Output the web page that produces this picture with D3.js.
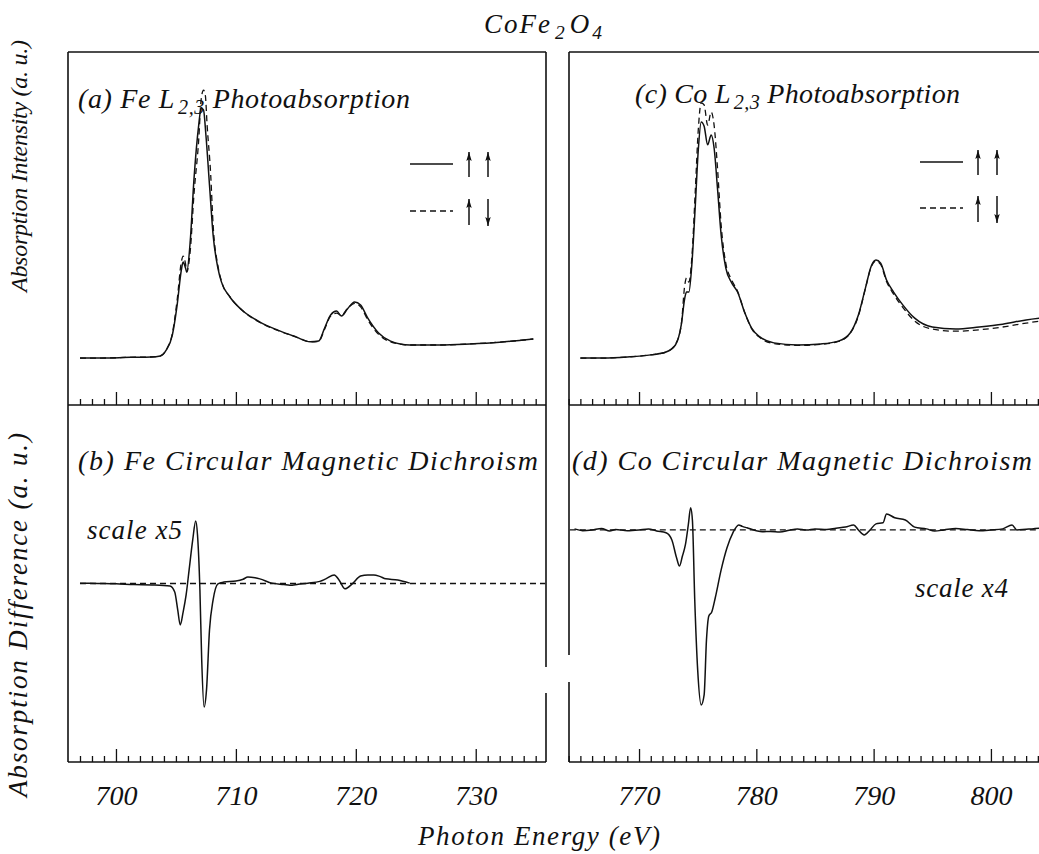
<!DOCTYPE html>
<html>
<head>
<meta charset="utf-8">
<script src="https://cdn.jsdelivr.net/npm/d3@7"></script>
<style>
  html, body { margin: 0; padding: 0; background: #fff; }
  svg { display: block; }
  text { font-family: "Liberation Serif", "DejaVu Serif", serif; font-style: italic; fill: #111; }
</style>
</head>
<body>
<svg id="chart" width="1039" height="854"></svg>
<script>
// ---------------- DATA ----------------
// Energies in eV, intensities in arbitrary units
const feMajorTicks = [700, 710, 720, 730];
const coMajorTicks = [770, 780, 790, 800];

// (a) Fe L2,3 photoabsorption, parallel (solid)
const feAbsParallel = [
  [697.0,1.33],[698.7,1.33],[701.2,1.35],[702.9,1.36],[703.7,1.39],[704.2,1.56],[704.7,1.98],
  [705.1,2.83],[705.45,3.82],[705.6,4.05],[705.8,3.88],[705.9,3.77],[706.2,4.67],[706.5,6.37],
  [706.9,7.93],[707.1,8.41],[707.3,8.36],[707.5,7.65],[707.8,6.23],[708.1,4.82],[708.5,3.88],
  [708.8,3.48],[709.5,3.06],[710.5,2.69],[712.0,2.35],[713.5,2.12],[715.0,1.93],[716.2,1.79],[716.9,1.81],
  [717.4,2.18],[717.9,2.55],[718.4,2.66],[718.8,2.52],[719.3,2.72],[719.9,2.92],[720.4,2.83],
  [721.0,2.46],[721.9,2.04],[722.9,1.81],[724.5,1.70],[727.0,1.70],[729.5,1.73],[732.0,1.78],[734.8,1.87]
];
// (a) Fe L2,3 photoabsorption, antiparallel (dashed)
const feAbsAntiparallel = [
  [697.0,1.33],[698.7,1.33],[701.2,1.35],[702.9,1.36],[703.7,1.39],[704.2,1.57],[704.7,2.02],
  [705.1,2.97],[705.45,4.05],[705.6,4.22],[705.8,4.00],[705.9,3.77],[706.2,4.39],[706.5,5.95],
  [706.9,7.51],[707.1,8.64],[707.3,8.92],[707.45,8.78],[707.6,7.93],[707.9,6.52],[708.1,5.10],[708.5,3.95],
  [708.8,3.50],[709.5,3.07],[710.5,2.69],[712.0,2.34],[713.5,2.11],[715.0,1.93],[716.2,1.79],[716.9,1.80],
  [717.4,2.15],[717.9,2.52],[718.4,2.60],[718.8,2.54],[719.3,2.73],[719.9,2.88],[720.4,2.78],
  [721.0,2.41],[721.9,2.00],[722.9,1.79],[724.5,1.70],[727.0,1.70],[729.5,1.73],[732.0,1.78],[734.8,1.87]
];
// (b) Fe circular magnetic dichroism (x5)
const feDichroism = [
  [697.0,0.01],[698.5,0.00],[700,-0.01],[701.5,-0.03],[703,-0.04],[704.5,-0.07],[704.9,-0.24],[705.15,-0.74],
  [705.36,-1.16],[705.6,-0.80],[705.85,-0.32],[706.1,0.38],[706.4,1.22],[706.65,1.75],[706.8,1.36],
  [707.0,-0.18],[707.15,-2.14],[707.35,-3.46],[707.55,-2.98],[707.8,-1.30],[708.1,-0.46],[708.5,-0.01],
  [709,0.04],[710,0.07],[710.6,0.12],[711,0.18],[711.6,0.16],[712,0.13],[713,0.01],[714,-0.03],[714.5,-0.05],
  [715.2,-0.02],[716,0.01],[717,0.06],[717.5,0.13],[718.2,0.24],[718.6,0.10],[719.1,-0.15],[719.7,-0.01],
  [720.4,0.21],[721.0,0.24],[721.5,0.24],[722.0,0.20],[722.5,0.13],[723.5,0.10],[724.5,0.01]
];
const feZero = [[697.0,0],[735.8,0]];

// (c) Co L2,3 photoabsorption, parallel (solid)
const coAbsParallel = [
  [765.0,1.33],[767.0,1.33],[769.0,1.36],[771.0,1.42],[772.3,1.50],[773.1,1.70],[773.6,2.27],
  [773.9,3.03],[774.05,3.20],[774.25,3.20],[774.5,3.97],[774.8,5.67],[775.05,7.22],[775.3,8.02],
  [775.55,7.90],[775.85,7.37],[776.15,7.65],[776.4,7.28],[776.7,6.09],[777.0,4.82],[777.4,3.88],
  [777.9,3.46],[778.4,3.20],[779.0,2.63],[779.6,2.18],[780.3,1.93],[781.5,1.76],[783.5,1.70],
  [785.5,1.73],[787.0,1.81],[788.0,2.04],[788.7,2.55],[789.3,3.31],[789.8,3.94],[790.2,4.11],
  [790.6,4.02],[791.1,3.54],[791.7,3.20],[792.5,2.83],[793.5,2.46],[795.0,2.21],[797.0,2.15],
  [799.0,2.21],[801.0,2.29],[803.0,2.41],[805.0,2.49]
];
// (c) Co L2,3 photoabsorption, antiparallel (dashed)
const coAbsAntiparallel = [
  [765.0,1.33],[767.0,1.33],[769.0,1.36],[771.0,1.42],[772.3,1.50],[773.1,1.72],[773.6,2.27],
  [773.9,3.40],[774.05,3.60],[774.25,3.48],[774.5,4.16],[774.8,6.09],[775.05,7.79],[775.3,8.56],
  [775.55,8.50],[775.85,7.93],[776.15,8.30],[776.4,7.93],[776.7,6.66],[777.0,5.10],[777.4,4.01],
  [777.9,3.54],[778.4,3.22],[779.0,2.63],[779.6,2.16],[780.3,1.91],[781.5,1.74],[783.5,1.69],
  [785.5,1.72],[787.0,1.80],[788.0,2.03],[788.7,2.52],[789.3,3.30],[789.8,3.92],[790.2,4.08],
  [790.6,3.98],[791.1,3.50],[791.7,3.14],[792.5,2.76],[793.5,2.38],[795.0,2.15],[797.0,2.09],
  [799.0,2.13],[801.0,2.21],[803.0,2.32],[805.0,2.41]
];
// (d) Co circular magnetic dichroism (x4)
const coDichroism = [
  [764.5,0.03],[765.2,-0.02],[766,0.00],[766.8,0.04],[767.5,-0.03],[768,0.01],[769,-0.02],[770,0.00],
  [770.8,0.03],[771.5,-0.03],[772.3,-0.08],[772.8,-0.28],[773.2,-0.78],[773.45,-1.01],[773.7,-0.73],
  [773.95,-0.42],[774.2,0.14],[774.4,0.62],[774.55,0.28],[774.75,-1.96],[775.0,-3.92],[775.3,-4.90],
  [775.55,-4.62],[775.75,-3.08],[775.95,-2.41],[776.2,-2.30],[776.5,-1.90],[777.0,-1.12],[777.5,-0.50],
  [778.0,-0.08],[778.5,0.14],[778.8,0.10],[779.2,0.06],[780.0,-0.02],[780.5,-0.05],[781.2,-0.04],
  [782,-0.06],[782.8,-0.01],[783.5,0.03],[784.3,0.00],[785.0,0.03],[786,0.01],[786.8,0.05],[787.6,0.08],
  [788.3,0.14],[788.7,0.00],[789.2,-0.14],[789.7,0.00],[790.2,0.17],[790.8,0.20],[791.1,0.45],
  [791.8,0.34],[792.7,0.28],[793.5,0.08],[794.5,0.03],[795.2,-0.03],[796,0.00],[797,0.04],[798,0.01],
  [799,-0.02],[800,0.00],[801,0.03],[801.8,0.14],[802.2,0.00],[803,0.02],[803.5,0.03],[804.5,0.06]
];
const coZero = [[764.1,0],[805,0]];

// ---------------- LAYOUT ----------------
const svg = d3.select("#chart");
const yT = 52, yM = 405, yB = 762;
const feL = 68, feR = 546, coL = 569, coR = 1047;

const xFe = d3.scaleLinear().domain([696.0, 735.86]).range([feL, feR]);
const xCo = d3.scaleLinear().domain([764.03, 804.78]).range([coL, coR]);
const yAbs = d3.scaleLinear().domain([0, 10]).range([yM, yT]);
const yFeD = d3.scaleLinear().domain([-5, 5]).range([yB, yM]);
const yCoD = d3.scaleLinear().domain([-6.5, 3.5]).range([yB, yM]);

const defs = svg.append("defs");
defs.append("clipPath").attr("id", "clipFe").append("rect")
  .attr("x", feL).attr("y", yT).attr("width", feR - feL).attr("height", yB - yT);
defs.append("clipPath").attr("id", "clipCo").append("rect")
  .attr("x", coL).attr("y", yT).attr("width", coR - coL).attr("height", yB - yT);
defs.append("marker").attr("id", "arrow").attr("viewBox", "0 0 10 6")
  .attr("refX", 10).attr("refY", 3).attr("markerWidth", 6).attr("markerHeight", 3.6)
  .attr("markerUnits", "strokeWidth").attr("orient", "auto")
  .append("path").attr("d", "M0,0 L10,3 L0,6 L2,3 Z").attr("fill", "#111");

function drawLine(data, x, y, dashed, clip, smooth) {
  const line = d3.line().x(d => x(d[0])).y(d => y(d[1]));
  if (smooth) line.curve(d3.curveMonotoneX);
  svg.append("path")
    .datum(data)
    .attr("clip-path", `url(#${clip})`)
    .attr("fill", "none")
    .attr("stroke", "#111")
    .attr("stroke-width", dashed ? 1.3 : 1.5)
    .attr("stroke-dasharray", dashed ? "6,4" : null)
    .attr("stroke-linejoin", "round")
    .attr("d", line);
}

drawLine(feAbsAntiparallel, xFe, yAbs, true, "clipFe", true);
drawLine(feAbsParallel, xFe, yAbs, false, "clipFe", true);
drawLine(feZero, xFe, yFeD, true, "clipFe", false);
drawLine(feDichroism, xFe, yFeD, false, "clipFe", true);

drawLine(coAbsAntiparallel, xCo, yAbs, true, "clipCo", true);
drawLine(coAbsParallel, xCo, yAbs, false, "clipCo", true);
drawLine(coZero, xCo, yCoD, true, "clipCo", false);
drawLine(coDichroism, xCo, yCoD, false, "clipCo", true);

// ---------------- AXES (ticks pointing inward) ----------------
function ticks(x, y0, lo, hi, majors, labels) {
  const minors = d3.range(lo, hi + 1).filter(v => majors.indexOf(v) < 0);
  const gMin = svg.append("g").attr("transform", `translate(0,${y0})`)
    .call(d3.axisBottom(x).tickValues(minors).tickSize(-6).tickFormat(""));
  gMin.select(".domain").remove();
  const gMaj = svg.append("g").attr("transform", `translate(0,${y0})`)
    .call(d3.axisBottom(x).tickValues(majors).tickSize(-13).tickFormat(labels ? d3.format("d") : ""));
  gMaj.select(".domain").remove();
  svg.selectAll("g.tick line").attr("stroke", "#111").attr("stroke-width", 1.3);
  if (labels) {
    gMaj.selectAll("text")
      .attr("y", 0).attr("dy", 0)
      .attr("transform", "translate(0,43)")
      .style("font-family", '"Liberation Serif", serif')
      .style("font-style", "italic")
      .style("font-size", "28px")
      .attr("fill", "#111");
  }
}
ticks(xFe, yM, 697, 735, feMajorTicks, false);
ticks(xFe, yB, 697, 735, feMajorTicks, true);
ticks(xCo, yM, 764, 804, coMajorTicks, false);
ticks(xCo, yB, 764, 804, coMajorTicks, true);

// ---------------- FRAMES ----------------
const frame = svg.append("g").attr("stroke", "#111").attr("stroke-width", 1.6).attr("fill", "none");
function seg(x1, y1, x2, y2) { frame.append("line").attr("x1", x1).attr("y1", y1).attr("x2", x2).attr("y2", y2); }
seg(feL, yT, feR, yT); seg(feL, yM, feR, yM); seg(feL, yB, feR, yB);
seg(feL, yT, feL, yB);
seg(feR, yT, feR, 667); seg(feR, 693, feR, yB);
seg(coL, yT, coR, yT); seg(coL, yM, coR, yM); seg(coL, yB, coR, yB);
seg(coL, yT, coL, 655); seg(coL, 682, coL, yB);

// ---------------- LEGENDS ----------------
function legend(x0, ySolid, yDash, ax1, ax2) {
  const g = svg.append("g").attr("stroke", "#111").attr("stroke-width", 1.5);
  g.append("line").attr("x1", x0).attr("x2", x0 + 43).attr("y1", ySolid).attr("y2", ySolid);
  g.append("line").attr("x1", x0).attr("x2", x0 + 43).attr("y1", yDash).attr("y2", yDash)
    .attr("stroke-dasharray", "6,4").attr("stroke-width", 1.3);
  const arrow = (x, y1, y2) => g.append("line").attr("x1", x).attr("x2", x).attr("y1", y1).attr("y2", y2)
    .attr("marker-end", "url(#arrow)");
  arrow(ax1, ySolid + 13, ySolid - 12);
  arrow(ax2, ySolid + 13, ySolid - 12);
  arrow(ax1, yDash + 14, yDash - 12);
  arrow(ax2, yDash - 12, yDash + 15);
}
legend(410, 164, 211, 469, 488);
legend(920, 162, 208, 978, 997);

// ---------------- TEXT ----------------
function label(x, y, parts, size, width, spacing) {
  const t = svg.append("text").attr("x", x).attr("y", y).style("font-size", size + "px");
  if (spacing) t.style("letter-spacing", spacing + "px");
  parts.forEach(p => {
    const s = t.append("tspan").text(p.t);
    if (p.sub) s.attr("dy", p.sub).style("font-size", (size * 0.72) + "px");
    if (p.up) s.attr("dy", p.up);
    if (p.dx) s.attr("dx", p.dx);
  });
  if (width) t.attr("textLength", width).attr("lengthAdjust", "spacing");
  return t;
}
label(484, 33, [{t:"CoFe"},{t:"2", sub:6, dx:3},{t:"O", up:-6, dx:3},{t:"4", sub:6, dx:1}], 27, null, 2);
label(78, 108, [{t:"(a) Fe L"},{t:"2,3", sub:6, dx:3},{t:" Photoabsorption", up:-6}], 28, 332);
label(635, 103, [{t:"(c) Co L"},{t:"2,3", sub:6, dx:3},{t:" Photoabsorption", up:-6}], 28, 325);
label(78, 470, [{t:"(b) Fe Circular Magnetic Dichroism"}], 28, 460);
label(572, 470, [{t:"(d) Co Circular Magnetic Dichroism"}], 28, 460);
label(87, 539, [{t:"scale x5"}], 27, 95);
label(915, 597, [{t:"scale x4"}], 27, 93);
label(418, 845, [{t:"Photon Energy (eV)"}], 27, 242);
svg.append("text").attr("transform", "translate(27,292) rotate(-90)")
  .style("font-size", "24px").attr("textLength", 252).attr("lengthAdjust", "spacing")
  .text("Absorption Intensity (a. u.)");
svg.append("text").attr("transform", "translate(27,797) rotate(-90)")
  .style("font-size", "27px").attr("textLength", 364).attr("lengthAdjust", "spacing")
  .text("Absorption Difference (a. u.)");
</script>
</body>
</html>
